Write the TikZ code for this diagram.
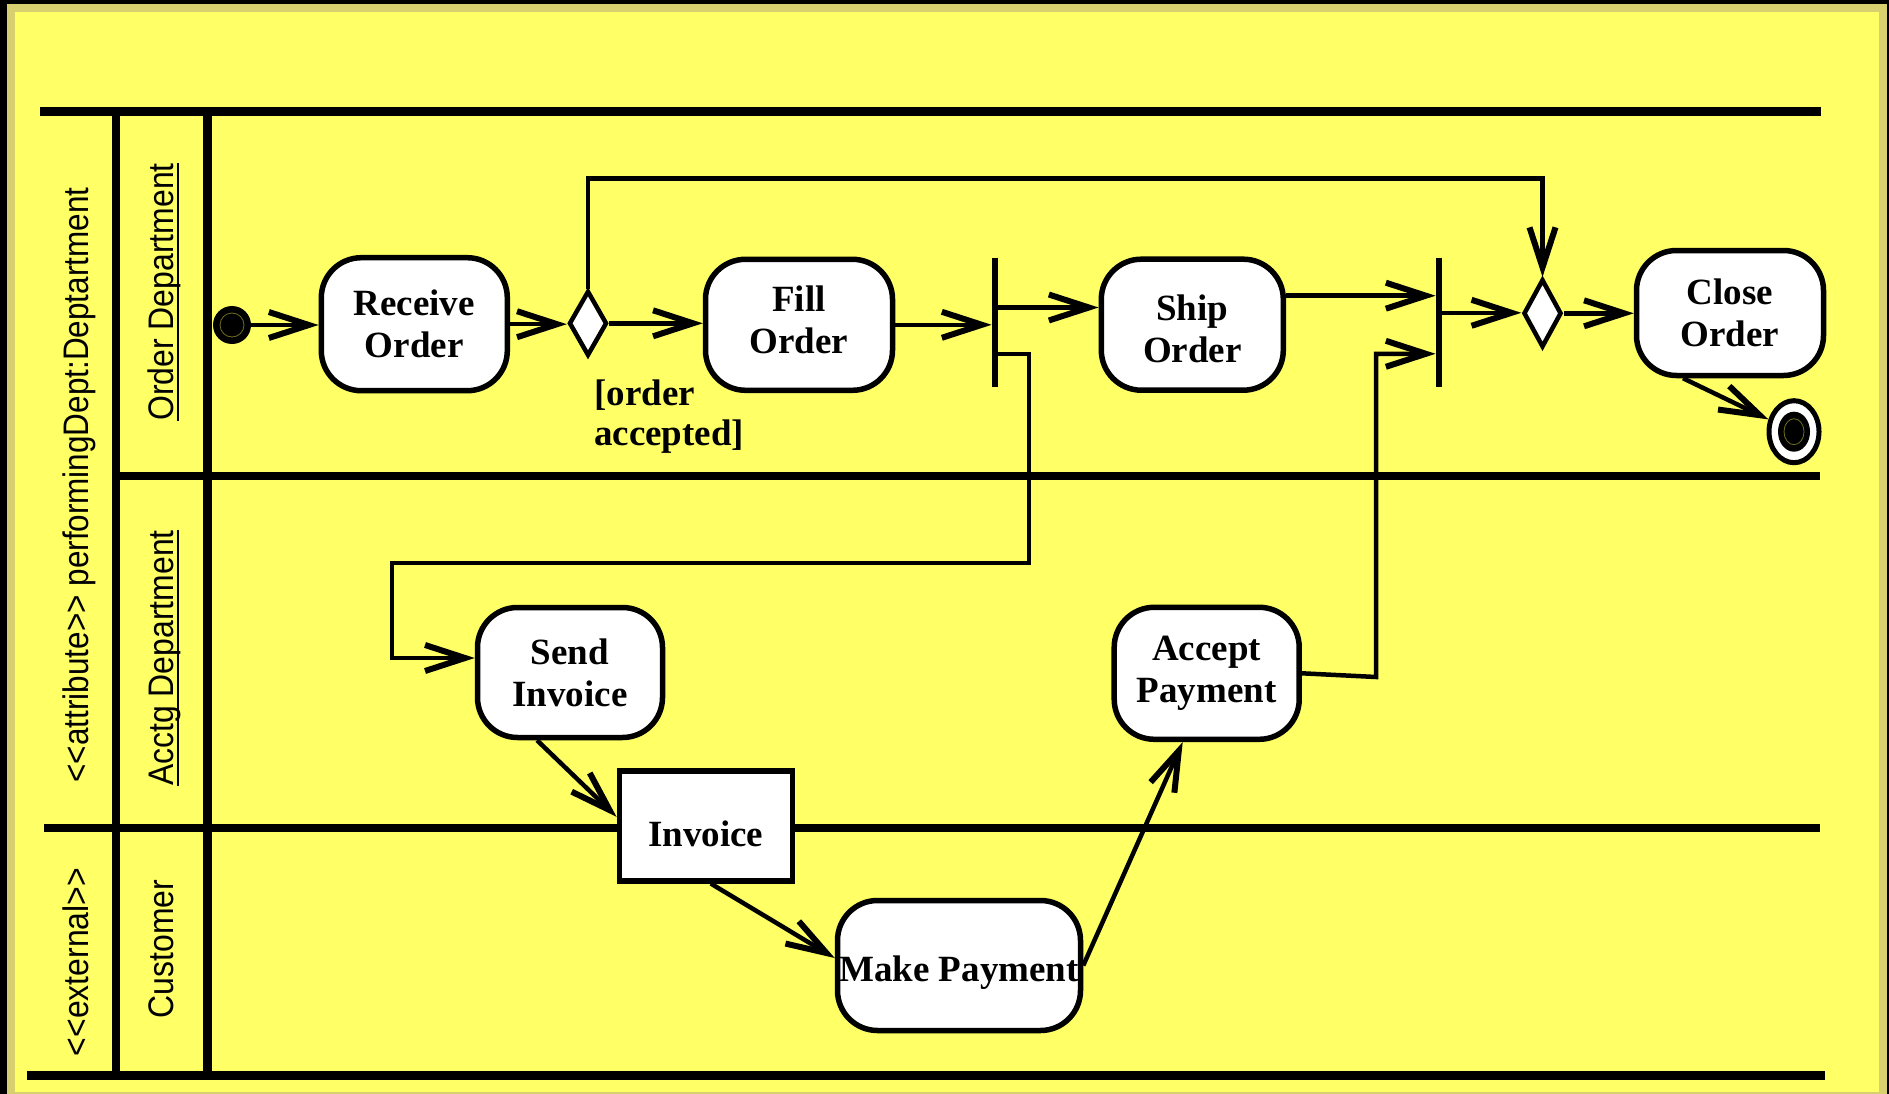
\documentclass[tikz,border=0pt]{standalone}
\usepackage{fontspec}
\usetikzlibrary{arrows.meta,shapes.geometric}
\newfontfamily\actfont{Liberation Serif}
\newfontfamily\lanefont{Liberation Sans}[FakeStretch=0.9]
\definecolor{paper}{RGB}{255,255,102}
\definecolor{rim}{RGB}{216,208,112}
\definecolor{ring}{RGB}{110,110,30}
% guillemet-like double angle brackets, kept as two separate glyphs
\newcommand\lanelt{<\kern0pt<}
\newcommand\lanegt{>\kern0pt>}
\begin{document}
\begin{tikzpicture}[x=1pt,y=-1pt,
  lane/.style={line width=8.5pt},
  act/.style={draw, line width=5.5pt, fill=white, rounded corners=40pt, inner sep=0pt,
    align=center, font=\actfont\bfseries\fontsize{37}{42}\selectfont},
  objbox/.style={draw, line width=5.5pt, fill=white, inner sep=0pt,
    font=\actfont\bfseries\fontsize{37}{42}\selectfont},
  decision/.style={diamond, draw, line width=4.5pt, fill=white, inner sep=0pt},
  forkbar/.style={rectangle, fill=black, inner sep=0pt, minimum width=6.5pt, minimum height=129pt},
  flow/.style={line width=4.5pt, -{Straight Barb[length=40pt,width=26pt,line width=6pt]}},
  lanelabel/.style={rotate=90, anchor=base, inner sep=0pt,
    font=\lanefont\fontsize{35.5}{40}\selectfont},
  uline/.style={line width=2pt}
]
\useasboundingbox (0,0) rectangle (1889,1094);

% frame and background
\fill[black] (0,0) rectangle (1889,1094);
\fill[rim] (7,4) rectangle (1887,1094);
\fill[paper] (15,12) rectangle (1879,1092);

% swimlane grid
\draw[lane, line width=9pt] (40,111.5) -- (1821,111.5);
\draw[lane] (116,111.5) -- (116,1075.5);
\draw[lane] (207.5,111.5) -- (207.5,1075.5);
\draw[lane] (116,476) -- (1820,476);
\draw[lane, line width=8pt] (44,827.5) -- (1820,827.5);
\draw[lane, line width=9pt] (27,1075.5) -- (1825,1075.5);

% lane headings
\node[lanelabel, xscale=0.985] (attr) at (88,485) {\lanelt attribute\lanegt\ performingDept:Deptartment};
\node[lanelabel] (ext) at (88,962) {\lanelt external\lanegt};
\node[lanelabel] (od) at (173,292) {Order Department};
\node[lanelabel] (ad) at (173,658) {Acctg Department};
\node[lanelabel] (cust) at (173,949) {Customer};
\draw[uline] ([xshift=5pt]od.base west) -- ([xshift=5pt]od.base east);
\draw[uline] ([xshift=5pt]ad.base west) -- ([xshift=5pt]ad.base east);

% start and end
\node[circle, fill=black, minimum size=38pt, inner sep=0pt] (init) at (232,325) {};
\draw[ring, line width=0.8pt] (init.center) circle[radius=12pt];
\node[ellipse, draw, line width=5pt, fill=white, minimum width=50pt, minimum height=62pt,
  inner sep=0pt] (final) at (1794,431.7) {};
\node[ellipse, fill=black, minimum width=32pt, minimum height=40pt, inner sep=0pt]
  (finaldot) at (final.center) {};
\draw[ring, line width=0.8pt] (finaldot.center) ellipse[x radius=10pt, y radius=13pt];

% activities
\node[act, minimum width=186pt, minimum height=133pt] (recv) at (414.3,324.2) {Receive\\Order};
\node[act, minimum width=187pt, minimum height=131pt, text height=67.3pt, text depth=10pt]
  (fill) at (799,324.8) {Fill\\Order};
\node[act, minimum width=182pt, minimum height=131pt, text height=75pt, text depth=0pt]
  (ship) at (1192.3,324.7) {Ship\\Order};
\node[act, minimum width=187pt, minimum height=125pt] (close) at (1730,313) {Close\\Order};
\node[act, minimum width=185pt, minimum height=130pt] (send) at (570,672.5) {Send\\Invoice};
\node[act, minimum width=185pt, minimum height=132pt] (accept) at (1206.7,673.3) {Accept\\Payment};
\node[act, minimum width=243pt, minimum height=130pt, text height=32pt, text depth=0pt]
  (make) at (959,965.5) {Make Payment};
\node[objbox, minimum width=173pt, minimum height=110pt, text height=42pt, text depth=0pt]
  (invoice) at (705.8,825.8) {Invoice};

% decisions and fork/join bars
\node[decision, minimum width=38pt, minimum height=65pt] (d1) at (588,323.3) {};
\node[decision, minimum width=38pt, minimum height=68pt] (d2) at (1542.5,313.3) {};
\node[forkbar] (bar1) at (995,322.5) {};
\node[forkbar] (bar2) at (1439,322.8) {};

% guard
\node[anchor=north west, inner sep=0pt, align=left,
  font=\actfont\bfseries\fontsize{37}{40}\selectfont] (guard) at (594,380) {[order\\accepted]};

% routing points
\coordinate (k1) at (392,658);
\coordinate (k2) at (1376,677);
\coordinate (k3) at (1542.5,178.3);

% flows
\draw[flow] (init.east) -- (init.east -| recv.west);
\draw[flow] (recv.east) -- (recv.east -| d1.west);
\draw[flow] (d1.east) -- (d1.east -| fill.west);
\draw[flow] (d1.north) |- (k3) -- (d2.north);
\draw[flow] (fill.east) -- (fill.east -| bar1.west);
\draw[flow] ([yshift=15pt]bar1.east) -- ([yshift=15pt]bar1.east -| ship.west);
\draw[flow] ([yshift=-31.5pt]bar1.east) -| (1029,563) -| (k1) -- (k1 -| send.west);
\draw[flow] ([yshift=29pt]ship.east) -- ([yshift=29pt]ship.east -| bar2.west);
\draw[flow] (accept.east) -- (k2) |- ([yshift=-31pt]bar2.west);
\draw[flow] ([yshift=10pt]bar2.east) -- ([yshift=10pt]bar2.east -| d2.west);
\draw[flow] (d2.east) -- (d2.east -| close.west);
\draw[flow] ([xshift=-47pt]close.south) -- (final);
\draw[flow] ([xshift=-33pt]send.south) -- ([yshift=9pt]invoice.west);
\draw[flow] ([xshift=5pt]invoice.south) -- ([yshift=7.5pt]make.west);
\draw[flow] (make.east) -- ([xshift=-24pt]accept.south);
\end{tikzpicture}
\end{document}
